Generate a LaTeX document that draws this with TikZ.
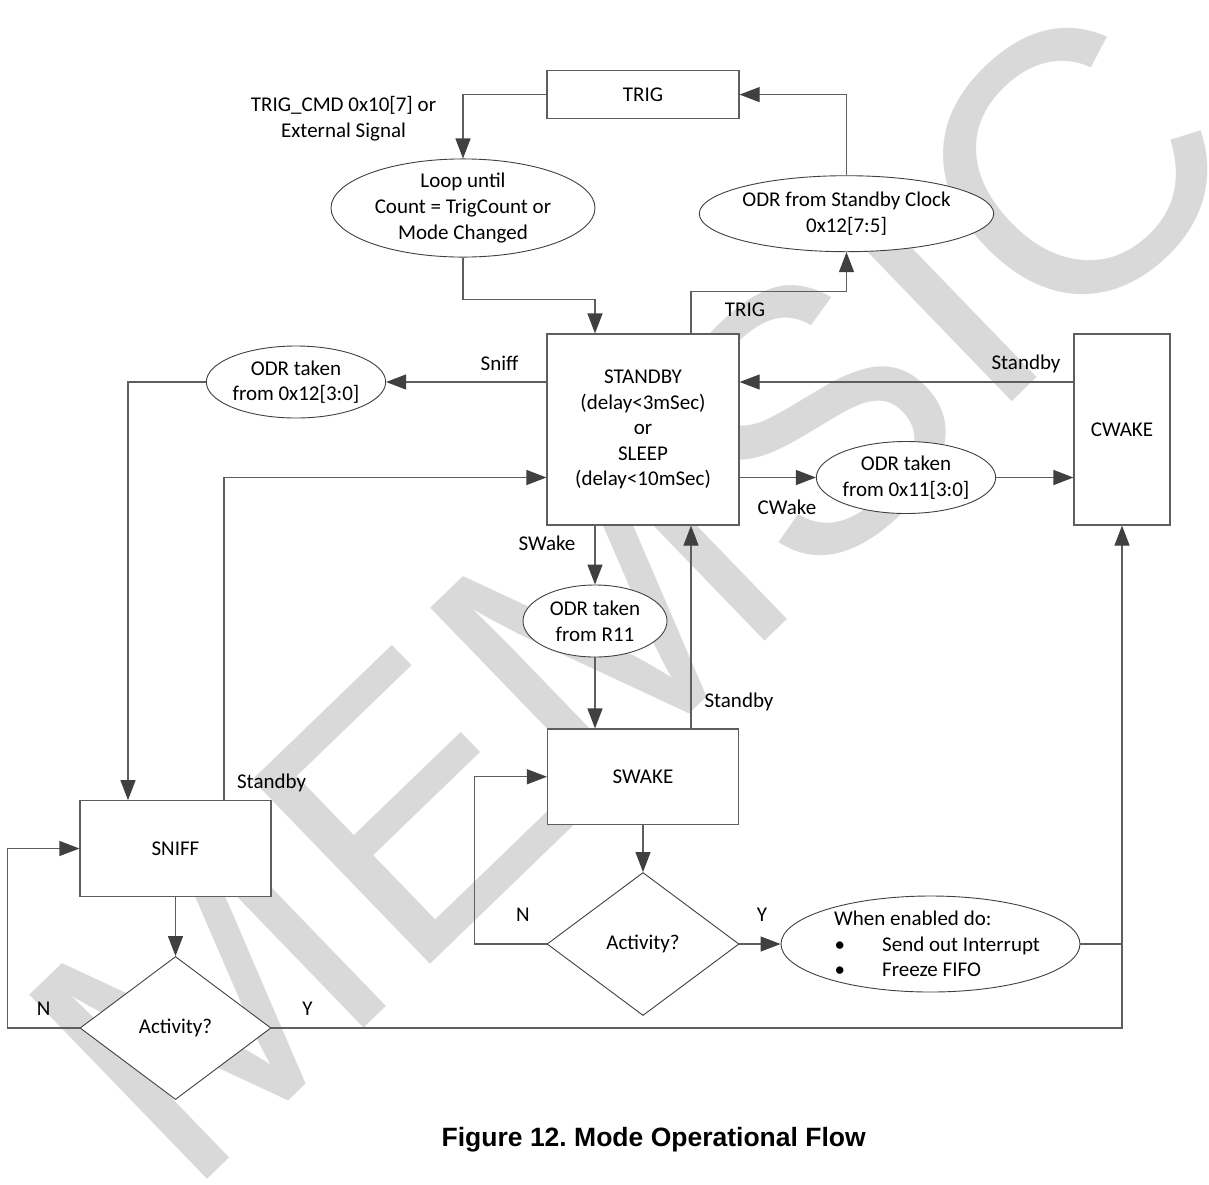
\documentclass[tikz,border=0pt]{standalone}
\usepackage{fontspec}
\setmainfont{Carlito}
\newfontfamily\capfont{Liberation Sans}
\usetikzlibrary{shapes.geometric,arrows.meta,calc}
\definecolor{lc}{HTML}{5E5E5E}
\definecolor{tipc}{HTML}{404040}
\definecolor{wm}{HTML}{D9D9D9}
\begin{document}
\frenchspacing
\begin{tikzpicture}[x=1pt,y=-1pt,
  font=\fontsize{21}{25.6}\selectfont,
  box/.style={draw=lc, fill=white, line width=1.2pt, rectangle, inner sep=0pt, align=center},
  oval/.style={draw=tipc, fill=white, line width=0.9pt, ellipse, inner sep=0pt, align=center},
  dia/.style={draw=tipc, fill=white, line width=0.9pt, diamond, inner sep=0pt},
  conn/.style={draw=lc, line width=1.2pt},
  arr/.style={conn, -{Triangle[length=20pt,width=15pt,fill=tipc,color=tipc]}},
  lbl/.style={inner sep=0pt}]
\useasboundingbox[fill=white] (0,0) rectangle (1209,1184);
% watermark
\node[font=\capfont\fontsize{372}{372}\selectfont, text=wm, anchor=base west, rotate=44, inner sep=0pt] (wmark) at (185,1201) {MEMSIC};
% nodes
\node[box, minimum width=192pt, minimum height=48pt] (trig) at (643,94.6) {TRIG};
\node[oval, minimum width=264pt, minimum height=83pt] (loop) at (463,208) {Loop until\\Count = TrigCount or\\Mode Changed};
\node[oval, minimum width=263pt, minimum height=76pt] (odrclk) at (846.5,213.7) {ODR from Standby Clock\\0x12[7:5]};
\node[box, minimum width=192pt, minimum height=191pt] (standby) at (643,429.5) {STANDBY\\(delay<3mSec)\\or\\SLEEP\\(delay<10mSec)};
\node[oval, minimum width=144pt, minimum height=72pt] (odr12) at (296,382) {ODR taken\\from 0x12[3:0]};
\node[oval, minimum width=144pt, minimum height=72pt] (odr11) at (906,477.5) {ODR taken\\from 0x11[3:0]};
\node[box, minimum width=96pt, minimum height=191pt] (cwake) at (1122,429.5) {CWAKE};
\node[oval, minimum width=144pt, minimum height=72pt] (odrr11) at (595,621) {ODR taken\\from R11};
\node[box, minimum width=191pt, minimum height=95.5pt] (swake) at (643,776.75) {SWAKE};
\node[dia, minimum width=192pt, minimum height=143pt] (dswake) at (643,944) {Activity?};
\node[oval, minimum width=299pt, minimum height=96pt] (when) at (930.5,944) {};
\node[lbl, anchor=west, align=left] (whentxt) at (834,944) {When enabled do:\\\makebox[48pt][l]{\hspace{0.5pt}•}Send out Interrupt\\\makebox[48pt][l]{\hspace{0.5pt}•}Freeze FIFO};
\node[box, minimum width=191pt, minimum height=95.5pt] (sniff) at (175.5,848.5) {SNIFF};
\node[dia, minimum width=191pt, minimum height=143pt] (dsniff) at (175.5,1028) {Activity?};
% labels
\node[lbl, align=center] (trigcmd) at (343.5,118.6) {TRIG\_CMD 0x10[7] or\\External Signal};
\node[lbl] (ltrig) at (745,309.6) {TRIG};
\node[lbl] (lsniff) at (499.6,363.5) {Sniff};
\node[lbl] (lstb1) at (1026,363.5) {Standby};
\node[lbl] (lcwake) at (787,507) {CWake};
\node[lbl] (lswake) at (547,543.6) {SWake};
\node[lbl] (lstb2) at (739,701.5) {Standby};
\node[lbl] (lstb3) at (271.6,782.6) {Standby};
\node[lbl] (ln1) at (522.8,914.8) {N};
\node[lbl] (ly1) at (762,914.8) {Y};
\node[lbl] (ln2) at (43.6,1009) {N};
\node[lbl] (ly2) at (307.5,1009) {Y};
\node[font=\capfont\bfseries\fontsize{26.5}{30}\selectfont, anchor=base, inner sep=0pt] (cap) at (653.7,1146.5) {Figure 12. Mode Operational Flow};
% connectors
\draw[arr] (trig.west) -| (loop.north);
\draw[arr] (loop.south) -- ++(0,42) -| ([xshift=-48pt]standby.north);
\draw[arr] ([xshift=48pt]standby.north) -- ++(0,-42) -| (odrclk.south);
\draw[arr] (odrclk.north) |- (trig.east);
\draw[arr] ([yshift=47.5pt]standby.west) -- (odr12.east);
\draw[arr] (odr12.west) -| ([xshift=-47.5pt]sniff.north);
\draw[arr] ([xshift=48.5pt]sniff.north) |- ([yshift=-48pt]standby.west);
\draw[arr] ([yshift=47.5pt]cwake.west) -- ([yshift=47.5pt]standby.east);
\draw[arr] ([yshift=-48pt]standby.east) -- (odr11.west);
\draw[arr] (odr11.east) -- ([yshift=-48pt]cwake.west);
\draw[arr] ([xshift=-48pt]standby.south) -- (odrr11.north);
\draw[arr] (odrr11.south) -- ([xshift=-48pt]swake.north);
\draw[arr] ([xshift=48pt]swake.north) -- ([xshift=48pt]standby.south);
\draw[arr] (swake.south) -- (dswake.north);
\draw[arr] (dswake.west) -- ++(-72,0) |- (swake.west);
\draw[arr] (dswake.east) -- (when.west);
\draw[conn] (when.east) -- (when.east -| cwake.south);
\draw[arr] (sniff.south) -- (dsniff.north);
\draw[arr] (dsniff.west) -- ++(-72,0) |- (sniff.west);
\draw[arr] (dsniff.east) -| (cwake.south);
\end{tikzpicture}
\end{document}
